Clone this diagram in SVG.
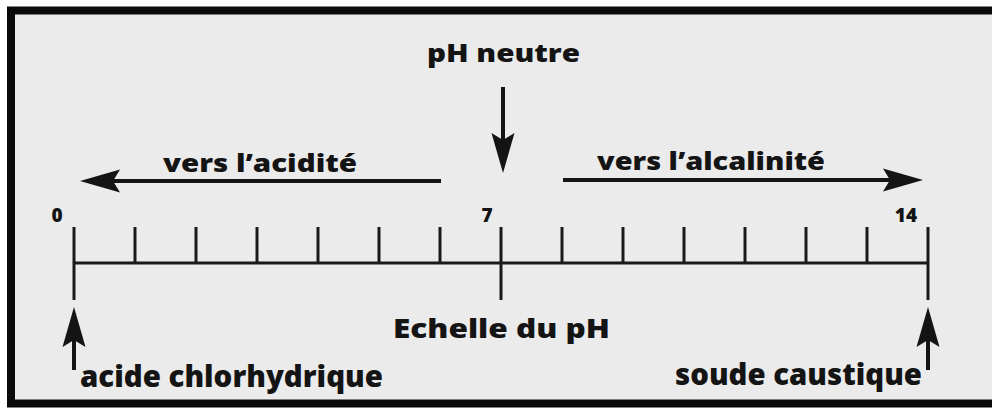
<svg xmlns="http://www.w3.org/2000/svg" width="992" height="410" viewBox="0 0 992 410">
  <style>
    .lbl { font-family: "Open Sans", "Liberation Sans", sans-serif; font-weight: 800; fill: #141414; }
    .num { font-family: "Open Sans", "Liberation Sans", sans-serif; font-weight: 800; fill: #141414; font-size: 19px; text-anchor: middle; }
    .arrow { stroke: #141414; stroke-width: 4; fill: none; marker-end: url(#head); }
    .tick { stroke: #1a1a1a; stroke-width: 3; }
  </style>
  <defs>
    <marker id="head" viewBox="-40 -12 40 24" refX="-20" refY="0" markerWidth="40" markerHeight="24" markerUnits="userSpaceOnUse" orient="auto">
      <path d="M0,0 L-40,-11.5 L-33,0 L-40,11.5 Z" fill="#141414"/>
    </marker>
  </defs>
  <rect x="0" y="0" width="992" height="410" fill="#ffffff"/>
  <rect x="11" y="10.5" width="990" height="393" fill="#ebebeb" stroke="#0a0a0a" stroke-width="8"/>

  <g id="scale">
    <line class="tick" x1="74" y1="263" x2="928" y2="263"/>
    <line class="tick" x1="74" y1="227" x2="74" y2="300"/>
    <line class="tick" x1="135" y1="227" x2="135" y2="263"/>
    <line class="tick" x1="196" y1="227" x2="196" y2="263"/>
    <line class="tick" x1="257" y1="227" x2="257" y2="263"/>
    <line class="tick" x1="318" y1="227" x2="318" y2="263"/>
    <line class="tick" x1="379" y1="227" x2="379" y2="263"/>
    <line class="tick" x1="440" y1="227" x2="440" y2="263"/>
    <line class="tick" x1="501" y1="227" x2="501" y2="300"/>
    <line class="tick" x1="562" y1="227" x2="562" y2="263"/>
    <line class="tick" x1="623" y1="227" x2="623" y2="263"/>
    <line class="tick" x1="684" y1="227" x2="684" y2="263"/>
    <line class="tick" x1="745" y1="227" x2="745" y2="263"/>
    <line class="tick" x1="806" y1="227" x2="806" y2="263"/>
    <line class="tick" x1="867" y1="227" x2="867" y2="263"/>
    <line class="tick" x1="928" y1="227" x2="928" y2="300"/>
    <text class="num" x="57" y="222">0</text>
    <text class="num" x="487" y="222">7</text>
    <text class="num" x="906" y="222">14</text>
  </g>

  <g id="connectors">
    <line class="arrow" x1="441" y1="181" x2="100" y2="181"/>
    <line class="arrow" x1="563" y1="180" x2="903" y2="180"/>
    <line class="arrow" x1="503" y1="87" x2="503" y2="153"/>
    <line class="arrow" x1="74" y1="370" x2="74" y2="327"/>
    <line class="arrow" x1="928" y1="370" x2="928" y2="327"/>
  </g>

  <g id="ph-neutre">
    <text class="lbl" x="427" y="62" font-size="24" textLength="153" lengthAdjust="spacingAndGlyphs">pH neutre</text>
  </g>
  <g id="acidite">
    <text class="lbl" x="163" y="172" font-size="24" textLength="194" lengthAdjust="spacingAndGlyphs">vers l’acidité</text>
  </g>
  <g id="alcalinite">
    <text class="lbl" x="597" y="170" font-size="24" textLength="228" lengthAdjust="spacingAndGlyphs">vers l’alcalinité</text>
  </g>
  <g id="echelle">
    <text class="lbl" x="393" y="338" font-size="27" textLength="217" lengthAdjust="spacingAndGlyphs">Echelle du pH</text>
  </g>
  <g id="acide-chlorhydrique">
    <text class="lbl" x="80" y="387" font-size="30" textLength="303" lengthAdjust="spacingAndGlyphs">acide chlorhydrique</text>
  </g>
  <g id="soude-caustique">
    <text class="lbl" x="675" y="385" font-size="30" textLength="247" lengthAdjust="spacingAndGlyphs">soude caustique</text>
  </g>
</svg>
